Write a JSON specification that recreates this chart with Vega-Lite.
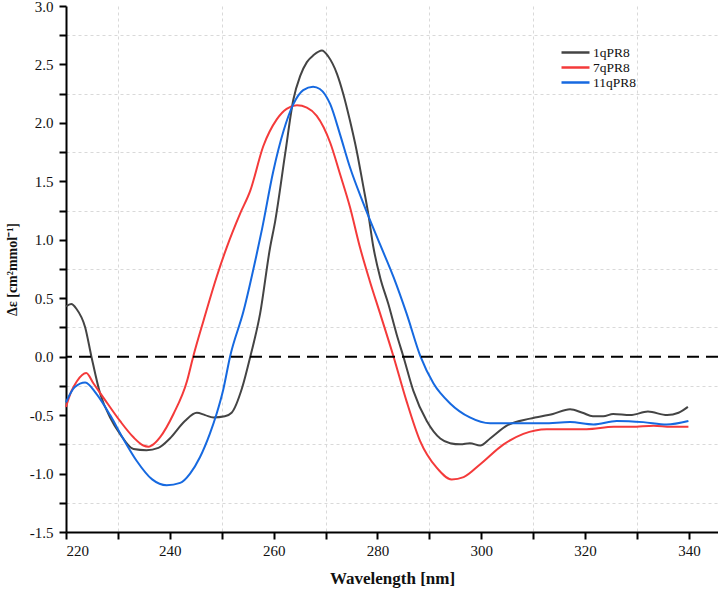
{
  "$schema": "https://vega.github.io/schema/vega-lite/v6.json",
  "width": 652,
  "height": 526,
  "autosize": {"type": "none"},
  "padding": {"left": 66, "top": 6, "right": 0, "bottom": 63},
  "background": "white",
  "config": {
    "view": {"stroke": null},
    "font": "Liberation Serif",
    "style": {
      "guide-label": {"font": "Liberation Serif"},
      "guide-title": {"font": "Liberation Serif"}
    }
  },
  "datasets": {
    "cd": [
      {"sample": "1qPR8", "wl": 220, "de": 0.43},
      {"sample": "1qPR8", "wl": 221, "de": 0.45},
      {"sample": "1qPR8", "wl": 222, "de": 0.41},
      {"sample": "1qPR8", "wl": 223.7, "de": 0.25},
      {"sample": "1qPR8", "wl": 224.9, "de": 0.0},
      {"sample": "1qPR8", "wl": 226.6, "de": -0.32},
      {"sample": "1qPR8", "wl": 228.5, "de": -0.52},
      {"sample": "1qPR8", "wl": 230.4, "de": -0.66},
      {"sample": "1qPR8", "wl": 233.0, "de": -0.79},
      {"sample": "1qPR8", "wl": 235.5, "de": -0.8},
      {"sample": "1qPR8", "wl": 237.8, "de": -0.78},
      {"sample": "1qPR8", "wl": 240.0, "de": -0.7},
      {"sample": "1qPR8", "wl": 242.9, "de": -0.55},
      {"sample": "1qPR8", "wl": 245.2, "de": -0.48},
      {"sample": "1qPR8", "wl": 246.8, "de": -0.5},
      {"sample": "1qPR8", "wl": 248.4, "de": -0.52},
      {"sample": "1qPR8", "wl": 250.6, "de": -0.51},
      {"sample": "1qPR8", "wl": 251.9, "de": -0.48},
      {"sample": "1qPR8", "wl": 253.9, "de": -0.27},
      {"sample": "1qPR8", "wl": 255.5, "de": 0.0},
      {"sample": "1qPR8", "wl": 257.4, "de": 0.37},
      {"sample": "1qPR8", "wl": 259.3, "de": 0.93},
      {"sample": "1qPR8", "wl": 260.3, "de": 1.16},
      {"sample": "1qPR8", "wl": 262.2, "de": 1.73},
      {"sample": "1qPR8", "wl": 263.8, "de": 2.2},
      {"sample": "1qPR8", "wl": 265.1, "de": 2.4},
      {"sample": "1qPR8", "wl": 266.4, "de": 2.52},
      {"sample": "1qPR8", "wl": 267.7, "de": 2.58},
      {"sample": "1qPR8", "wl": 269.3, "de": 2.62},
      {"sample": "1qPR8", "wl": 270.5, "de": 2.57},
      {"sample": "1qPR8", "wl": 272.2, "de": 2.42},
      {"sample": "1qPR8", "wl": 273.4, "de": 2.25},
      {"sample": "1qPR8", "wl": 274.7, "de": 2.02},
      {"sample": "1qPR8", "wl": 276.0, "de": 1.76},
      {"sample": "1qPR8", "wl": 277.3, "de": 1.45},
      {"sample": "1qPR8", "wl": 278.2, "de": 1.23},
      {"sample": "1qPR8", "wl": 279.2, "de": 0.94},
      {"sample": "1qPR8", "wl": 280.5, "de": 0.68},
      {"sample": "1qPR8", "wl": 282.1, "de": 0.45},
      {"sample": "1qPR8", "wl": 283.7, "de": 0.19},
      {"sample": "1qPR8", "wl": 285.0, "de": 0.0},
      {"sample": "1qPR8", "wl": 286.9, "de": -0.29},
      {"sample": "1qPR8", "wl": 289.5, "de": -0.55},
      {"sample": "1qPR8", "wl": 292.1, "de": -0.7},
      {"sample": "1qPR8", "wl": 294.0, "de": -0.74},
      {"sample": "1qPR8", "wl": 296.0, "de": -0.75},
      {"sample": "1qPR8", "wl": 297.8, "de": -0.74},
      {"sample": "1qPR8", "wl": 299.8, "de": -0.76},
      {"sample": "1qPR8", "wl": 301.7, "de": -0.7},
      {"sample": "1qPR8", "wl": 304.9, "de": -0.59},
      {"sample": "1qPR8", "wl": 309.4, "de": -0.53},
      {"sample": "1qPR8", "wl": 313.8, "de": -0.49},
      {"sample": "1qPR8", "wl": 317.1, "de": -0.45},
      {"sample": "1qPR8", "wl": 319.5, "de": -0.48},
      {"sample": "1qPR8", "wl": 321.5, "de": -0.51},
      {"sample": "1qPR8", "wl": 323.5, "de": -0.51},
      {"sample": "1qPR8", "wl": 325.4, "de": -0.49},
      {"sample": "1qPR8", "wl": 328.7, "de": -0.5},
      {"sample": "1qPR8", "wl": 332.1, "de": -0.47},
      {"sample": "1qPR8", "wl": 335.8, "de": -0.5},
      {"sample": "1qPR8", "wl": 338.0, "de": -0.48},
      {"sample": "1qPR8", "wl": 339.8, "de": -0.43},

      {"sample": "7qPR8", "wl": 220.0, "de": -0.43},
      {"sample": "7qPR8", "wl": 221.0, "de": -0.3},
      {"sample": "7qPR8", "wl": 222.1, "de": -0.21},
      {"sample": "7qPR8", "wl": 223.9, "de": -0.14},
      {"sample": "7qPR8", "wl": 225.3, "de": -0.23},
      {"sample": "7qPR8", "wl": 227.2, "de": -0.35},
      {"sample": "7qPR8", "wl": 230.4, "de": -0.55},
      {"sample": "7qPR8", "wl": 233.0, "de": -0.69},
      {"sample": "7qPR8", "wl": 234.9, "de": -0.76},
      {"sample": "7qPR8", "wl": 235.9, "de": -0.77},
      {"sample": "7qPR8", "wl": 236.5, "de": -0.76},
      {"sample": "7qPR8", "wl": 238.1, "de": -0.69},
      {"sample": "7qPR8", "wl": 240.7, "de": -0.49},
      {"sample": "7qPR8", "wl": 243.3, "de": -0.21},
      {"sample": "7qPR8", "wl": 244.5, "de": 0.0},
      {"sample": "7qPR8", "wl": 246.5, "de": 0.31},
      {"sample": "7qPR8", "wl": 249.0, "de": 0.68},
      {"sample": "7qPR8", "wl": 251.0, "de": 0.94},
      {"sample": "7qPR8", "wl": 253.5, "de": 1.22},
      {"sample": "7qPR8", "wl": 255.5, "de": 1.42},
      {"sample": "7qPR8", "wl": 258.0, "de": 1.8},
      {"sample": "7qPR8", "wl": 260.6, "de": 2.03},
      {"sample": "7qPR8", "wl": 262.5, "de": 2.12},
      {"sample": "7qPR8", "wl": 264.5, "de": 2.15},
      {"sample": "7qPR8", "wl": 266.4, "de": 2.13},
      {"sample": "7qPR8", "wl": 268.3, "de": 2.06},
      {"sample": "7qPR8", "wl": 270.9, "de": 1.83},
      {"sample": "7qPR8", "wl": 272.8, "de": 1.56},
      {"sample": "7qPR8", "wl": 274.7, "de": 1.28},
      {"sample": "7qPR8", "wl": 276.6, "de": 0.94},
      {"sample": "7qPR8", "wl": 278.5, "de": 0.65},
      {"sample": "7qPR8", "wl": 280.5, "de": 0.37},
      {"sample": "7qPR8", "wl": 283.1, "de": 0.0},
      {"sample": "7qPR8", "wl": 285.6, "de": -0.38},
      {"sample": "7qPR8", "wl": 288.2, "de": -0.72},
      {"sample": "7qPR8", "wl": 291.4, "de": -0.95},
      {"sample": "7qPR8", "wl": 294.3, "de": -1.05},
      {"sample": "7qPR8", "wl": 296.6, "de": -1.03},
      {"sample": "7qPR8", "wl": 299.8, "de": -0.92},
      {"sample": "7qPR8", "wl": 304.3, "de": -0.75},
      {"sample": "7qPR8", "wl": 308.1, "de": -0.66},
      {"sample": "7qPR8", "wl": 312.6, "de": -0.62},
      {"sample": "7qPR8", "wl": 316.0, "de": -0.62},
      {"sample": "7qPR8", "wl": 320.3, "de": -0.62},
      {"sample": "7qPR8", "wl": 325.5, "de": -0.6},
      {"sample": "7qPR8", "wl": 329.0, "de": -0.6},
      {"sample": "7qPR8", "wl": 333.2, "de": -0.59},
      {"sample": "7qPR8", "wl": 336.5, "de": -0.6},
      {"sample": "7qPR8", "wl": 339.9, "de": -0.6},

      {"sample": "11qPR8", "wl": 220.0, "de": -0.39},
      {"sample": "11qPR8", "wl": 221.7, "de": -0.26},
      {"sample": "11qPR8", "wl": 223.7, "de": -0.22},
      {"sample": "11qPR8", "wl": 225.9, "de": -0.32},
      {"sample": "11qPR8", "wl": 228.5, "de": -0.5},
      {"sample": "11qPR8", "wl": 231.0, "de": -0.7},
      {"sample": "11qPR8", "wl": 233.6, "de": -0.89},
      {"sample": "11qPR8", "wl": 236.6, "de": -1.05},
      {"sample": "11qPR8", "wl": 239.4, "de": -1.1},
      {"sample": "11qPR8", "wl": 242.0, "de": -1.08},
      {"sample": "11qPR8", "wl": 243.9, "de": -1.0},
      {"sample": "11qPR8", "wl": 245.8, "de": -0.86},
      {"sample": "11qPR8", "wl": 247.7, "de": -0.66},
      {"sample": "11qPR8", "wl": 249.0, "de": -0.49},
      {"sample": "11qPR8", "wl": 250.3, "de": -0.28},
      {"sample": "11qPR8", "wl": 251.6, "de": 0.0},
      {"sample": "11qPR8", "wl": 254.2, "de": 0.39},
      {"sample": "11qPR8", "wl": 256.7, "de": 0.87},
      {"sample": "11qPR8", "wl": 257.8, "de": 1.1},
      {"sample": "11qPR8", "wl": 259.9, "de": 1.58},
      {"sample": "11qPR8", "wl": 261.9, "de": 1.93},
      {"sample": "11qPR8", "wl": 263.8, "de": 2.16},
      {"sample": "11qPR8", "wl": 265.7, "de": 2.28},
      {"sample": "11qPR8", "wl": 267.6, "de": 2.31},
      {"sample": "11qPR8", "wl": 268.9, "de": 2.29},
      {"sample": "11qPR8", "wl": 270.9, "de": 2.16},
      {"sample": "11qPR8", "wl": 272.8, "de": 1.9},
      {"sample": "11qPR8", "wl": 274.7, "de": 1.62},
      {"sample": "11qPR8", "wl": 277.3, "de": 1.31},
      {"sample": "11qPR8", "wl": 280.5, "de": 0.96},
      {"sample": "11qPR8", "wl": 283.1, "de": 0.68},
      {"sample": "11qPR8", "wl": 285.6, "de": 0.37},
      {"sample": "11qPR8", "wl": 288.3, "de": 0.0},
      {"sample": "11qPR8", "wl": 290.8, "de": -0.23},
      {"sample": "11qPR8", "wl": 294.0, "de": -0.4},
      {"sample": "11qPR8", "wl": 297.8, "de": -0.52},
      {"sample": "11qPR8", "wl": 301.7, "de": -0.57},
      {"sample": "11qPR8", "wl": 307.5, "de": -0.57},
      {"sample": "11qPR8", "wl": 312.0, "de": -0.57},
      {"sample": "11qPR8", "wl": 317.1, "de": -0.56},
      {"sample": "11qPR8", "wl": 321.6, "de": -0.58},
      {"sample": "11qPR8", "wl": 326.1, "de": -0.55},
      {"sample": "11qPR8", "wl": 331.2, "de": -0.56},
      {"sample": "11qPR8", "wl": 335.7, "de": -0.58},
      {"sample": "11qPR8", "wl": 339.9, "de": -0.55}
    ],
    "baseline": [{"de": 0}]
  },
  "encoding": {
    "y": {
      "field": "de",
      "type": "quantitative",
      "scale": {"domain": [-1.5, 3.0], "nice": false, "zero": false},
      "axis": {
        "title": "Δε [cm²mmol⁻¹]",
        "titleFont": "Liberation Serif",
        "titleFontSize": 14,
        "titleFontWeight": "bold",
        "titleColor": "#111",
        "titlePadding": 10,
        "values": [-1.5, -1.25, -1.0, -0.75, -0.5, -0.25, 0, 0.25, 0.5, 0.75, 1.0, 1.25, 1.5, 1.75, 2.0, 2.25, 2.5, 2.75, 3.0],
        "labelExpr": "(datum.value * 4) % 2 == 0 ? replace(format(datum.value, '.1f'), '\u2212', '-') : ''",
        "labelFont": "Liberation Serif",
        "labelFontSize": 15,
        "labelColor": "#111",
        "labelPadding": 6,
        "domainColor": "#000",
        "domainWidth": 2,
        "tickColor": "#000",
        "tickWidth": 2,
        "tickSize": 7,
        "grid": true,
        "gridColor": "#d9d9d9",
        "gridDash": [3, 3],
        "gridWidth": 1,
        "gridOpacity": {"condition": {"test": "(datum.value * 4) % 2 == 0", "value": 0}, "value": 1}
      }
    }
  },
  "layer": [
    {
      "data": {"name": "cd"},
      "mark": {"type": "line", "interpolate": "monotone", "strokeWidth": 2},
      "encoding": {
        "x": {
          "field": "wl",
          "type": "quantitative",
          "scale": {"domain": [220, 345.6], "nice": false, "zero": false},
          "axis": {
            "title": "Wavelength [nm]",
            "titleFont": "Liberation Serif",
            "titleFontSize": 17,
            "titleFontWeight": "bold",
            "titleColor": "#111",
            "titlePadding": 12,
            "values": [220, 230, 240, 250, 260, 270, 280, 290, 300, 310, 320, 330, 340],
            "labelExpr": "datum.value % 20 == 0 ? datum.label : ''",
            "labelFont": "Liberation Serif",
            "labelFontSize": 15,
            "labelColor": "#111",
            "labelPadding": 4,
            "domainColor": "#000",
            "domainWidth": 2,
            "tickColor": "#000",
            "tickWidth": 2,
            "tickSize": 7,
            "grid": true,
            "gridColor": "#d9d9d9",
            "gridDash": [3, 3],
            "gridWidth": 1,
            "gridOpacity": {"condition": {"test": "datum.value % 20 == 0", "value": 0}, "value": 1}
          }
        },
        "color": {
          "field": "sample",
          "type": "nominal",
          "scale": {"domain": ["1qPR8", "7qPR8", "11qPR8"], "range": ["#444444", "#f43a3a", "#1669e0"]},
          "legend": {
            "title": null,
            "orient": "none",
            "legendX": 501,
            "legendY": 38,
            "symbolType": "M-2,0L2,0",
            "symbolSize": 196,
            "symbolStrokeWidth": 2.5,
            "symbolFillColor": "transparent",
            "labelFont": "Liberation Serif",
            "labelFontSize": 13.5,
            "labelColor": "#111",
            "labelOffset": 9,
            "rowPadding": 0,
            "padding": 0
          }
        }
      }
    },
    {
      "data": {"name": "baseline"},
      "mark": {"type": "rule", "color": "#000000", "strokeWidth": 2, "strokeDash": [12, 7]},
      "encoding": {}
    }
  ]
}
